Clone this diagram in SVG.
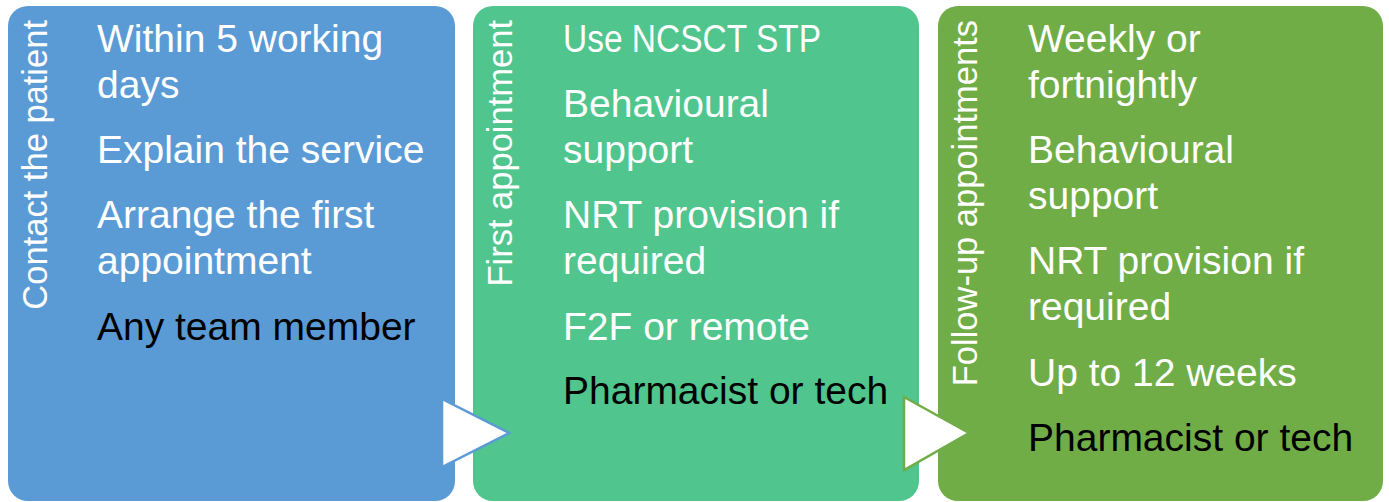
<svg xmlns="http://www.w3.org/2000/svg" width="1389" height="502" viewBox="0 0 1389 502">
<style>
.t{font-family:"Liberation Sans",Arial,sans-serif;font-size:39px;fill:#ffffff}
.k{fill:#000000}
.v{font-family:"Liberation Sans",Arial,sans-serif;font-size:34.5px;fill:#ffffff;text-anchor:end}
.arr{fill:#ffffff;stroke-width:2.5;stroke-linejoin:miter}
</style>
<rect width="1389" height="502" fill="#ffffff"/>
<g id="node-contact">
<rect x="8" y="6" width="447" height="495" rx="20" fill="#5B9BD5"/>
<text class="v" transform="translate(47,20) rotate(-90)">Contact the patient</text>
<text class="t" x="97" y="52">Within 5 working</text>
<text class="t" x="97" y="98">days</text>
<text class="t" x="97" y="163">Explain the service</text>
<text class="t" x="97" y="228">Arrange the first</text>
<text class="t" x="97" y="274">appointment</text>
<text class="t k" x="97" y="340">Any team member</text>
</g>
<g id="node-first">
<rect x="473" y="6" width="446" height="495" rx="20" fill="#50C58D"/>
<text class="v" transform="translate(512,20) rotate(-90)">First appointment</text>
<text class="t" x="563" y="52" textLength="258" lengthAdjust="spacingAndGlyphs">Use NCSCT STP</text>
<text class="t" x="563" y="117">Behavioural</text>
<text class="t" x="563" y="163">support</text>
<text class="t" x="563" y="228">NRT provision if</text>
<text class="t" x="563" y="274">required</text>
<text class="t" x="563" y="340">F2F or remote</text>
<text class="t k" x="563" y="404">Pharmacist or tech</text>
</g>
<g id="node-followup">
<rect x="938" y="6" width="445" height="495" rx="20" fill="#70AD47"/>
<text class="v" transform="translate(977,20) rotate(-90)">Follow-up appointments</text>
<text class="t" x="1028" y="52">Weekly or</text>
<text class="t" x="1028" y="98">fortnightly</text>
<text class="t" x="1028" y="163">Behavioural</text>
<text class="t" x="1028" y="209">support</text>
<text class="t" x="1028" y="274">NRT provision if</text>
<text class="t" x="1028" y="320">required</text>
<text class="t" x="1028" y="386">Up to 12 weeks</text>
<text class="t k" x="1028" y="451">Pharmacist or tech</text>
</g>
<g id="connectors">
<polygon class="arr" points="442,399 442,467 509,433" stroke="#5B9BD5"/>
<polygon class="arr" points="904,397 904,470 969,433" stroke="#70AD47"/>
</g>
</svg>
